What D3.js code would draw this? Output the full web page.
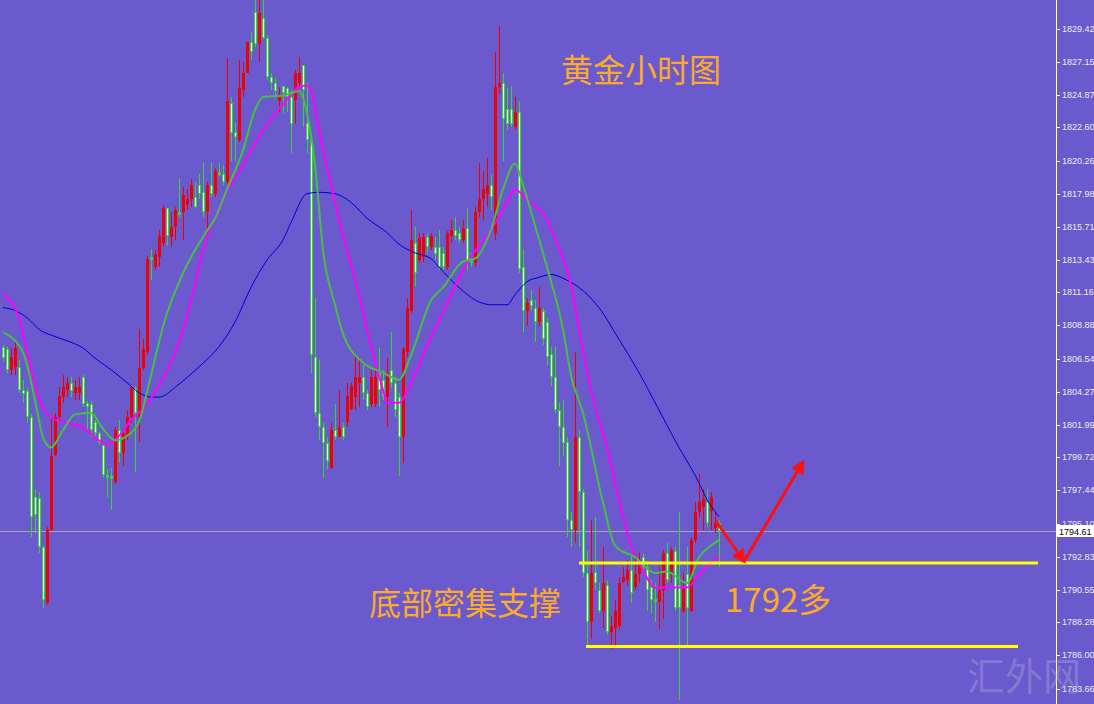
<!DOCTYPE html>
<html>
<head>
<meta charset="utf-8">
<script src="https://cdnjs.cloudflare.com/ajax/libs/d3/7.8.5/d3.min.js"></script>
<style>
  body { margin: 0; background: #6a5acd; }
  svg { display: block; }
</style>
</head>
<body>
<div id="chart"></div>
<script>
// hourly gold candles
var opens = [
  1807.4, 1807.2, 1805.8, 1806.0, 1806.0, 1804.4, 1804.3, 1802.5, 1797.0, 1796.9,
  1793.5, 1789.6, 1794.7, 1799.9, 1802.5, 1803.9, 1804.4, 1804.9, 1804.2, 1804.2,
  1805.3, 1803.5, 1803.4, 1802.2, 1801.4, 1800.6, 1798.5, 1798.4, 1798.0, 1801.6,
  1800.0, 1801.1, 1802.5, 1804.5, 1802.5, 1805.9, 1807.0, 1813.6, 1812.9, 1813.6,
  1814.6, 1817.0, 1815.0, 1815.7, 1816.7, 1816.7, 1817.2, 1817.6, 1817.8, 1818.6,
  1818.1, 1816.7, 1818.6, 1818.0, 1819.5, 1819.4, 1818.8, 1824.3, 1822.3, 1821.7,
  1825.2, 1826.4, 1828.5, 1830.6, 1828.4, 1830.2, 1828.8, 1826.1, 1825.7, 1824.4,
  1825.5, 1825.3, 1824.7, 1824.5, 1825.7, 1826.9, 1822.9, 1821.7, 1806.7, 1802.8,
  1801.8, 1800.7, 1799.0, 1801.6, 1801.1, 1801.8, 1802.2, 1803.1, 1803.9, 1804.9,
  1805.3, 1804.2, 1803.4, 1803.4, 1805.6, 1805.1, 1803.9, 1805.8, 1804.9, 1803.9,
  1801.1, 1807.0, 1809.9, 1814.6, 1813.4, 1813.6, 1815.0, 1814.3, 1814.3, 1814.3,
  1813.9, 1812.9, 1815.1, 1815.5, 1815.3, 1814.8, 1815.6, 1813.4, 1813.2, 1816.7,
  1817.6, 1818.0, 1818.6, 1815.3, 1825.4, 1825.7, 1823.9, 1823.9, 1822.6, 1823.7,
  1812.9, 1809.9, 1810.6, 1810.1, 1809.1, 1809.9, 1809.1, 1806.9, 1805.3, 1803.0,
  1801.8, 1800.8, 1795.4, 1794.7, 1801.1, 1797.3, 1791.7, 1788.3, 1791.8, 1790.5,
  1789.1, 1790.9, 1787.6, 1787.9, 1788.0, 1791.1, 1791.2, 1791.9, 1790.7, 1791.6,
  1792.8, 1792.1, 1790.7, 1789.9, 1789.7, 1790.5, 1793.1, 1791.7, 1793.2, 1790.9,
  1789.1, 1791.6, 1789.1, 1794.0, 1795.9, 1796.3, 1796.6, 1796.0, 1794.8, 1795.2
];
var highs = [
  1807.5, 1807.4, 1807.3, 1807.7, 1806.5, 1805.1, 1804.5, 1802.7, 1797.5, 1797.3,
  1793.6, 1794.9, 1802.5, 1802.8, 1804.6, 1805.4, 1805.3, 1805.3, 1805.1, 1805.3,
  1805.4, 1803.6, 1803.6, 1802.3, 1801.5, 1800.7, 1798.9, 1799.0, 1801.8, 1802.3,
  1801.6, 1803.0, 1804.6, 1804.7, 1808.6, 1807.9, 1813.7, 1814.2, 1814.1, 1815.5,
  1817.2, 1817.0, 1816.7, 1817.1, 1819.0, 1818.5, 1818.3, 1819.0, 1818.8, 1819.4,
  1820.1, 1818.8, 1820.1, 1819.8, 1820.1, 1820.0, 1827.4, 1824.7, 1822.9, 1827.3,
  1827.1, 1828.5, 1829.2, 1831.8, 1831.8, 1831.8, 1829.0, 1826.4, 1826.0, 1825.4,
  1825.5, 1825.4, 1825.2, 1826.6, 1827.5, 1826.9, 1825.7, 1821.9, 1810.8, 1806.5,
  1802.1, 1801.1, 1802.1, 1803.4, 1804.4, 1802.1, 1804.9, 1804.9, 1806.8, 1806.7,
  1806.1, 1804.4, 1805.8, 1805.8, 1807.3, 1805.8, 1806.6, 1808.4, 1805.3, 1804.2,
  1807.4, 1810.8, 1816.9, 1815.7, 1815.3, 1815.3, 1815.3, 1815.3, 1815.0, 1815.5,
  1814.3, 1815.4, 1816.2, 1816.4, 1815.7, 1816.2, 1817.0, 1813.9, 1817.1, 1820.1,
  1819.6, 1820.5, 1819.3, 1827.8, 1829.6, 1826.4, 1825.3, 1825.5, 1824.7, 1824.4,
  1814.2, 1810.8, 1811.3, 1810.6, 1811.5, 1810.1, 1809.4, 1807.4, 1807.4, 1803.5,
  1803.7, 1801.1, 1795.9, 1807.0, 1801.6, 1797.5, 1793.2, 1795.4, 1795.6, 1791.0,
  1793.5, 1791.2, 1788.7, 1789.8, 1791.4, 1792.1, 1792.6, 1792.8, 1792.8, 1793.1,
  1793.0, 1792.4, 1791.2, 1791.0, 1792.1, 1793.3, 1793.8, 1793.5, 1793.5, 1795.9,
  1791.7, 1793.5, 1794.2, 1796.6, 1798.6, 1797.5, 1797.5, 1797.3, 1795.9, 1795.4
];
var lows = [
  1806.3, 1805.6, 1805.4, 1805.4, 1804.2, 1803.5, 1802.1, 1794.2, 1794.5, 1793.1,
  1789.3, 1789.5, 1794.6, 1799.8, 1802.3, 1803.5, 1803.9, 1803.9, 1803.7, 1803.7,
  1803.2, 1801.6, 1801.1, 1801.2, 1800.6, 1798.3, 1797.0, 1796.1, 1797.9, 1799.3,
  1799.1, 1800.9, 1802.1, 1798.7, 1800.8, 1805.8, 1806.8, 1812.0, 1812.7, 1812.9,
  1814.4, 1814.4, 1814.3, 1814.8, 1816.4, 1814.8, 1816.9, 1817.1, 1817.0, 1817.6,
  1816.4, 1815.0, 1817.8, 1817.8, 1819.2, 1818.6, 1818.7, 1820.3, 1820.3, 1821.6,
  1824.7, 1826.4, 1827.3, 1828.2, 1827.1, 1828.7, 1825.9, 1825.2, 1824.7, 1823.7,
  1823.6, 1823.7, 1820.8, 1822.8, 1825.4, 1822.6, 1820.8, 1805.6, 1802.5, 1800.9,
  1798.3, 1798.9, 1798.9, 1800.9, 1801.1, 1800.9, 1801.8, 1803.0, 1803.0, 1803.2,
  1803.7, 1803.0, 1803.2, 1803.2, 1803.2, 1803.7, 1801.8, 1804.5, 1802.5, 1798.4,
  1799.3, 1806.7, 1809.7, 1811.5, 1813.2, 1813.3, 1813.9, 1814.1, 1813.4, 1812.7,
  1812.7, 1812.7, 1814.6, 1814.8, 1814.6, 1814.6, 1812.7, 1812.9, 1812.9, 1816.4,
  1816.2, 1817.1, 1816.9, 1814.8, 1824.9, 1820.3, 1822.4, 1822.6, 1822.4, 1812.5,
  1808.4, 1808.8, 1809.9, 1807.7, 1808.8, 1807.5, 1806.1, 1804.7, 1802.8, 1799.1,
  1799.8, 1794.2, 1793.5, 1793.8, 1793.5, 1791.4, 1786.7, 1787.1, 1790.5, 1788.9,
  1787.9, 1787.4, 1786.4, 1786.6, 1787.8, 1791.0, 1790.8, 1789.6, 1790.5, 1791.0,
  1791.9, 1789.1, 1788.9, 1788.3, 1787.8, 1788.5, 1791.0, 1791.0, 1789.1, 1782.9,
  1788.9, 1786.6, 1789.0, 1793.8, 1795.6, 1794.7, 1794.9, 1794.7, 1794.5, 1792.1
];
var closes = [
  1806.6, 1805.8, 1806.7, 1807.3, 1804.4, 1804.1, 1802.5, 1795.6, 1795.7, 1793.5,
  1789.8, 1794.7, 1799.8, 1802.5, 1804.0, 1804.6, 1804.9, 1804.3, 1804.6, 1804.6,
  1803.4, 1803.2, 1801.6, 1801.4, 1800.7, 1798.5, 1798.3, 1798.2, 1801.6, 1800.0,
  1801.4, 1802.5, 1804.6, 1802.8, 1805.9, 1807.2, 1813.5, 1813.4, 1813.8, 1815.1,
  1817.0, 1815.1, 1815.7, 1816.9, 1816.5, 1817.9, 1817.6, 1818.6, 1817.1, 1818.0,
  1816.7, 1818.6, 1818.0, 1819.6, 1819.3, 1818.8, 1824.4, 1822.2, 1821.9, 1825.3,
  1826.4, 1828.5, 1827.8, 1828.4, 1830.5, 1828.8, 1826.1, 1825.7, 1825.1, 1824.7,
  1825.0, 1824.7, 1822.8, 1826.4, 1826.4, 1825.2, 1821.7, 1806.8, 1802.8, 1801.8,
  1800.7, 1799.5, 1801.6, 1801.1, 1801.8, 1801.1, 1804.0, 1804.7, 1805.3, 1805.3,
  1804.2, 1803.2, 1805.3, 1805.3, 1804.4, 1803.9, 1805.6, 1804.9, 1803.0, 1801.1,
  1807.2, 1810.1, 1814.8, 1812.5, 1814.9, 1815.0, 1814.3, 1815.1, 1813.8, 1812.9,
  1812.9, 1815.3, 1815.5, 1815.1, 1814.8, 1815.6, 1813.2, 1813.2, 1816.7, 1817.6,
  1818.3, 1818.6, 1817.8, 1825.4, 1825.7, 1823.2, 1822.8, 1822.8, 1823.7, 1812.8,
  1809.9, 1810.4, 1810.2, 1809.1, 1810.1, 1807.9, 1806.7, 1805.3, 1803.0, 1801.8,
  1800.7, 1795.4, 1794.7, 1801.1, 1797.3, 1791.7, 1788.3, 1791.7, 1791.0, 1789.1,
  1791.0, 1787.6, 1788.0, 1789.1, 1791.0, 1791.4, 1791.9, 1790.3, 1791.6, 1792.6,
  1792.1, 1790.5, 1789.8, 1789.7, 1790.5, 1793.1, 1791.2, 1793.3, 1789.3, 1789.3,
  1790.7, 1789.3, 1794.0, 1795.9, 1796.6, 1796.8, 1795.2, 1797.0, 1795.2, 1794.61
];

// moving averages, sampled at bar indexes
var fastIdx = [0, 5, 8, 10, 12, 15, 18, 22, 25, 28, 31, 34, 37, 40, 45, 50, 53, 56, 60, 63, 65, 70, 74, 76, 78, 80, 83, 85, 90, 95, 99, 102, 107, 110, 115, 118, 122, 125, 128, 130, 133, 136, 140, 142, 145, 150, 153, 158, 163, 166, 171, 174, 177, 179];
var fastMA = [1808.4, 1807.0, 1803.7, 1801.1, 1800.4, 1801.6, 1802.7, 1802.8, 1801.7, 1800.9, 1801.2, 1802.2, 1805.4, 1808.8, 1812.5, 1815.0, 1816.3, 1818.3, 1821.0, 1823.8, 1824.7, 1824.8, 1825.1, 1823.6, 1820.0, 1814.1, 1810.3, 1808.3, 1806.3, 1805.6, 1805.1, 1806.8, 1810.6, 1811.5, 1813.3, 1813.5, 1815.5, 1818.3, 1820.1, 1818.6, 1815.8, 1812.9, 1808.6, 1805.4, 1802.8, 1796.6, 1793.6, 1792.8, 1791.7, 1791.8, 1791.0, 1792.8, 1793.6, 1794.0];
var midIdx = [0, 4, 7, 9, 12, 16, 20, 24, 26, 29, 32, 35, 39, 44, 47, 50, 55, 60, 65, 70, 74, 76, 77, 79, 82, 85, 89, 92, 95, 96, 99, 102, 107, 111, 116, 122, 126, 128, 131, 136, 139, 142, 144, 147, 151, 154, 157, 160, 163, 167, 171, 174, 177, 179];
var midMA = [1811.0, 1809.4, 1805.9, 1803.8, 1802.5, 1802.1, 1801.8, 1800.9, 1800.6, 1801.2, 1802.3, 1803.1, 1804.7, 1807.7, 1810.6, 1814.1, 1817.6, 1820.0, 1822.4, 1824.2, 1825.4, 1825.5, 1825.2, 1822.4, 1818.6, 1815.1, 1811.0, 1807.4, 1804.4, 1803.5, 1803.5, 1804.9, 1808.1, 1810.4, 1813.2, 1815.5, 1817.4, 1818.3, 1817.6, 1816.2, 1814.2, 1811.7, 1808.6, 1804.4, 1800.4, 1796.8, 1793.6, 1791.9, 1790.7, 1790.7, 1790.7, 1791.6, 1792.4, 1792.8];
var slowIdx = [0, 2, 6, 9, 13, 17, 20, 23, 27, 31, 34, 37, 39, 44, 49, 54, 58, 62, 66, 70, 72, 76, 79, 83, 87, 91, 96, 99, 103, 107, 109, 114, 119, 122, 126, 128, 131, 134, 137, 141, 144, 149, 154, 159, 164, 169, 173, 176, 179];
var slowMA = [1810.1, 1810.0, 1809.4, 1808.6, 1808.1, 1807.7, 1807.3, 1806.6, 1805.8, 1804.9, 1804.2, 1803.9, 1803.9, 1804.8, 1806.0, 1807.4, 1809.1, 1811.5, 1813.4, 1814.8, 1816.0, 1818.0, 1818.1, 1818.0, 1817.4, 1816.3, 1815.3, 1814.5, 1813.9, 1813.5, 1812.9, 1811.5, 1810.5, 1810.3, 1810.3, 1811.0, 1811.9, 1812.2, 1812.4, 1812.0, 1811.5, 1810.1, 1807.9, 1805.6, 1803.0, 1800.4, 1798.5, 1796.8, 1795.6];

var tickLabels = ['1829.42', '1827.15', '1824.87', '1822.60', '1820.26', '1817.98', '1815.71', '1813.43', '1811.16', '1808.88', '1806.54',
  '1804.27', '1801.99', '1799.72', '1797.44', '1795.10', '1792.83', '1790.55', '1788.28', '1786.00', '1783.66'];
var lastPrice = 1794.61;
var supportLevels = [1792.4, 1786.6];
var supportFrom = [144, 145.75];
var supportTo = [258.75, 253.75];
var arrowPath = [[178.25, 1795.3], [185.25, 1792.5], [200, 1799.4]];

var width = 1094, height = 704, axisX = 1056;

var svg = d3.select('#chart').append('svg')
    .attr('width', width)
    .attr('height', height);

svg.append('rect')
    .attr('width', width)
    .attr('height', height)
    .attr('fill', '#6a5acd');

var x = d3.scaleLinear().domain([0, 179]).range([3, 719]);
var y = d3.scaleLinear().domain([1783.66, 1829.42]).range([689, 29]);

var bars = d3.range(opens.length).map(function(i) {
  return {i: i, o: opens[i], h: highs[i], l: lows[i], c: closes[i]};
});

var plot = svg.append('g').attr('shape-rendering', 'crispEdges');

// current price line
plot.append('line')
    .attr('x1', 0).attr('x2', axisX)
    .attr('y1', Math.round(y(lastPrice)) + 0.5).attr('y2', Math.round(y(lastPrice)) + 0.5)
    .attr('stroke', '#aaa29c');

var candle = plot.selectAll('g.candle')
  .data(bars)
  .enter().append('g')
    .attr('class', 'candle');

candle.append('rect')
    .attr('x', function(d) { return Math.round(x(d.i)); })
    .attr('width', 1)
    .attr('y', function(d) { return Math.round(y(d.h)); })
    .attr('height', function(d) { return Math.max(1, Math.round(y(d.l)) - Math.round(y(d.h))); })
    .attr('fill', function(d) { return d.c > d.o ? '#f00000' : '#33d633'; });

candle.append('rect')
    .attr('x', function(d) { return Math.round(x(d.i)) - 1; })
    .attr('width', 3)
    .attr('y', function(d) { return Math.round(y(Math.max(d.o, d.c))); })
    .attr('height', function(d) { return Math.max(1, Math.round(y(Math.min(d.o, d.c))) - Math.round(y(Math.max(d.o, d.c)))); })
    .attr('fill', function(d) { return d.c > d.o ? '#f00000' : '#33d633'; });

candle.filter(function(d) { return d.c <= d.o && (y(d.c) - y(d.o)) > 3; })
  .append('rect')
    .attr('x', function(d) { return Math.round(x(d.i)); })
    .attr('width', 1)
    .attr('y', function(d) { return Math.round(y(d.o)) + 1; })
    .attr('height', function(d) { return Math.round(y(d.c)) - Math.round(y(d.o)) - 2; })
    .attr('fill', '#f4fff0');

// moving averages
function maLine(idx, vals) {
  return d3.line()
    .x(function(d, i) { return x(idx[i]); })
    .y(function(d) { return y(d); })
    .curve(d3.curveMonotoneX)(vals);
}

svg.append('path')
    .attr('d', maLine(slowIdx, slowMA))
    .attr('fill', 'none')
    .attr('stroke', '#0000d0')
    .attr('stroke-width', 1);

svg.append('path')
    .attr('d', maLine(midIdx, midMA))
    .attr('fill', 'none')
    .attr('stroke', '#ff00ff')
    .attr('stroke-width', 2);

svg.append('path')
    .attr('d', maLine(fastIdx, fastMA))
    .attr('fill', 'none')
    .attr('stroke', '#44c144')
    .attr('stroke-width', 2);

// support lines
supportLevels.forEach(function(lvl, i) {
  svg.append('line')
      .attr('x1', x(supportFrom[i])).attr('x2', x(supportTo[i]))
      .attr('y1', y(lvl)).attr('y2', y(lvl))
      .attr('stroke', '#ffff00')
      .attr('stroke-width', 3);
});

// red arrows
svg.append('defs').append('marker')
    .attr('id', 'head')
    .attr('viewBox', '0 0 10 10')
    .attr('refX', 8).attr('refY', 5)
    .attr('markerWidth', 17).attr('markerHeight', 14)
    .attr('markerUnits', 'userSpaceOnUse')
    .attr('orient', 'auto')
  .append('path')
    .attr('d', 'M0,0 L10,5 L0,10 Z')
    .attr('fill', '#ff1010');

for (var a = 0; a < arrowPath.length - 1; a++) {
  svg.append('line')
      .attr('x1', x(arrowPath[a][0])).attr('y1', y(arrowPath[a][1]))
      .attr('x2', x(arrowPath[a + 1][0])).attr('y2', y(arrowPath[a + 1][1]))
      .attr('stroke', '#ff1010')
      .attr('stroke-width', 3)
      .attr('marker-end', 'url(#head)');
}

// price axis
var axis = svg.append('g').attr('shape-rendering', 'crispEdges');

axis.append('line')
    .attr('x1', axisX + 0.5).attr('x2', axisX + 0.5)
    .attr('y1', 0).attr('y2', height)
    .attr('stroke', '#ffffff');

axis.selectAll('line.tick')
  .data(tickLabels)
  .enter().append('line')
    .attr('class', 'tick')
    .attr('x1', axisX).attr('x2', axisX + 4)
    .attr('y1', function(d) { return Math.round(y(+d)) + 0.5; })
    .attr('y2', function(d) { return Math.round(y(+d)) + 0.5; })
    .attr('stroke', '#ffffff');

axis.selectAll('text')
  .data(tickLabels)
  .enter().append('text')
    .attr('x', axisX + 6)
    .attr('y', function(d) { return y(+d) + 3; })
    .attr('font-family', '"Liberation Sans", Arial, sans-serif')
    .attr('font-size', '9px')
    .attr('fill', '#ececec')
    .text(function(d) { return d; });

axis.append('rect')
    .attr('x', axisX + 1).attr('y', Math.round(y(lastPrice)) - 6)
    .attr('width', 38).attr('height', 12)
    .attr('fill', '#ffffff');

axis.append('text')
    .attr('x', axisX + 3)
    .attr('y', y(lastPrice) + 3.5)
    .attr('font-family', '"Liberation Sans", Arial, sans-serif')
    .attr('font-size', '9px')
    .attr('fill', '#000000')
    .text(lastPrice.toFixed(2));

// annotations
var cjk = '"Noto Sans CJK SC", "Noto Sans", sans-serif';

svg.append('text')
    .attr('x', 561).attr('y', 82)
    .attr('font-family', cjk).attr('font-size', '32px')
    .attr('fill', '#fbaa2a')
    .text('黄金小时图');

svg.append('text')
    .attr('x', 369).attr('y', 615)
    .attr('font-family', cjk).attr('font-size', '32px')
    .attr('fill', '#fbaa2a')
    .text('底部密集支撑');

svg.append('text')
    .attr('x', 725).attr('y', 612)
    .attr('font-family', cjk).attr('font-size', '33px')
    .attr('fill', '#fbaa2a')
    .text('1792多');

svg.append('text')
    .attr('x', 967).attr('y', 690)
    .attr('font-family', cjk).attr('font-size', '38px')
    .attr('fill', 'rgba(185,180,220,0.35)')
    .text('汇外网');
</script>
</body>
</html>
